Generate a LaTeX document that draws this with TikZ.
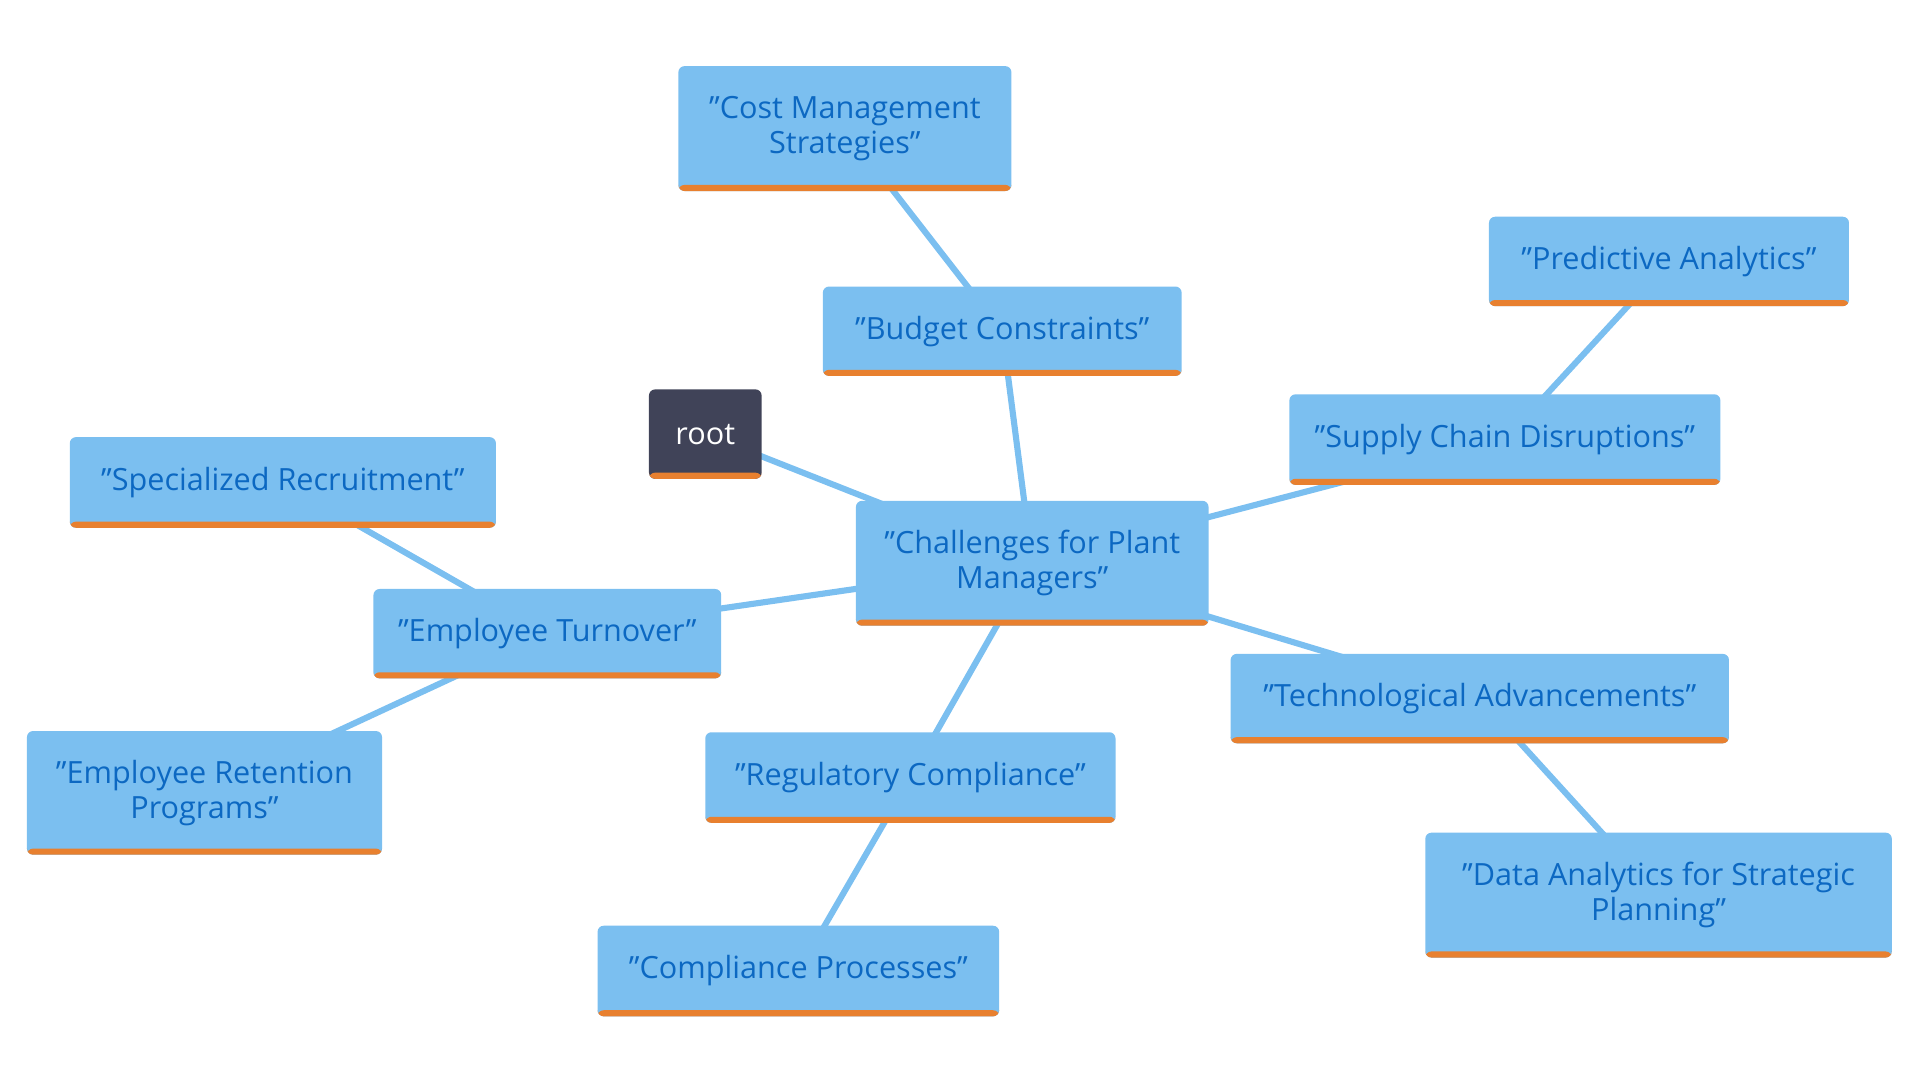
\documentclass[tikz,border=0pt]{standalone}
\usepackage{fontspec}
\setmainfont{Open Sans}
\usetikzlibrary{backgrounds}
\definecolor{boxblue}{RGB}{123,191,240}
\definecolor{txtblue}{RGB}{12,104,194}
\definecolor{barorange}{RGB}{232,128,47}
\definecolor{rootgray}{RGB}{64,67,88}
\tikzset{
  mbox/.style={rectangle, rounded corners=2pt, fill=boxblue, text=txtblue,
    font=\fontsize{10}{11.5}\selectfont, align=center, inner sep=0pt,
    path picture={\fill[barorange] (path picture bounding box.south west) rectangle ([yshift=2pt]path picture bounding box.south east);}},
  rootbox/.style={mbox, fill=rootgray, text=white},
  link/.style={draw=boxblue, line width=2pt}
}
\begin{document}
\begin{tikzpicture}[x=0.4pt,y=0.4pt,yscale=-1]
\path (0,0) rectangle (1568,882);

% boxes
\node[mbox, minimum width=108.8pt, minimum height=40.8pt] (cost) at (690,105) {"Cost Management\\Strategies"};
\node[mbox, minimum width=117.2pt, minimum height=29.2pt] (budget) at (818.5,270.5) {"Budget Constraints"};
\node[mbox, minimum width=117.6pt, minimum height=29.2pt] (predict) at (1363,213.5) {"Predictive Analytics"};
\node[mbox, minimum width=140.8pt, minimum height=29.6pt] (supply) at (1229,359) {"Supply Chain Disruptions"};
\node[rootbox, minimum width=36.8pt, minimum height=29.2pt] (root) at (576,354.5) {root};
\node[mbox, minimum width=115.2pt, minimum height=40.8pt] (challenge) at (843,460) {"Challenges for Plant\\Managers"};
\node[mbox, minimum width=139.2pt, minimum height=29.6pt] (recruit) at (231,394) {"Specialized Recruitment"};
\node[mbox, minimum width=113.6pt, minimum height=29.2pt] (turnover) at (447,517.5) {"Employee Turnover"};
\node[mbox, minimum width=116pt, minimum height=40.4pt] (retain) at (167,647.5) {"Employee Retention\\Programs"};
\node[mbox, minimum width=134pt, minimum height=29.6pt] (regul) at (743.5,635) {"Regulatory Compliance"};
\node[mbox, minimum width=162.8pt, minimum height=29.2pt] (tech) at (1208.5,570.5) {"Technological Advancements"};
\node[mbox, minimum width=152.4pt, minimum height=40.8pt] (data) at (1354.5,731) {"Data Analytics for Strategic\\Planning"};
\node[mbox, minimum width=131.2pt, minimum height=29.6pt] (process) at (652,793) {"Compliance Processes"};

% links
\begin{scope}[on background layer]
\draw[link] (root.center) -- (challenge.center);
\draw[link] (challenge.center) -- (budget.center);
\draw[link] (budget.center) -- (cost.center);
\draw[link] (challenge.center) -- (supply.center);
\draw[link] (supply.center) -- (predict.center);
\draw[link] (challenge.center) -- (turnover.center);
\draw[link] (turnover.center) -- (recruit.center);
\draw[link] (turnover.center) -- (retain.center);
\draw[link] (challenge.center) -- (regul.center);
\draw[link] (regul.center) -- (process.center);
\draw[link] (challenge.center) -- (tech.center);
\draw[link] (tech.center) -- (data.center);
\end{scope}
\end{tikzpicture}
\end{document}
